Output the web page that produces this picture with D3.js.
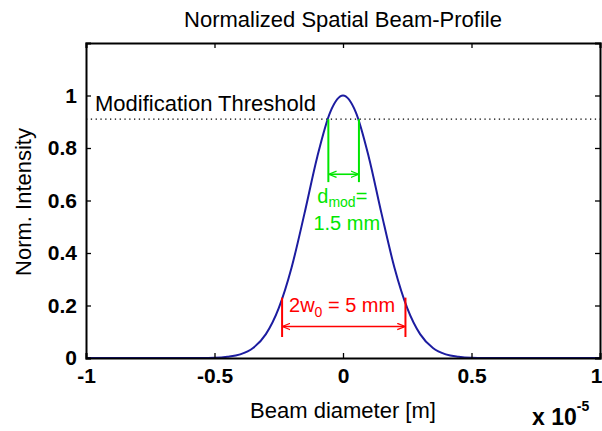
<!DOCTYPE html>
<html>
<head>
<meta charset="utf-8">
<script src="https://cdn.jsdelivr.net/npm/d3@7"></script>
<style>
  body { margin: 0; background: #fff; }
  text { font-family: Arial, "Liberation Sans", sans-serif; }
</style>
</head>
<body>
<div id="chart-area"></div>
<script>
// beam position in units of 1e-5 m
var positions = [-1, -0.55, -0.5, -0.45, -0.4, -0.35, -0.3, -0.25, -0.2, -0.15, -0.1, -0.05, 0,
                 0.05, 0.1, 0.15, 0.2, 0.25, 0.3, 0.35, 0.4, 0.45, 0.5, 0.55, 1];
var intensity = [0, 0, 0.001, 0.005, 0.014, 0.038, 0.091, 0.19, 0.345, 0.55, 0.767, 0.936, 1,
                 0.936, 0.767, 0.55, 0.345, 0.19, 0.091, 0.038, 0.014, 0.005, 0.001, 0, 0];
var xTicks = [-1, -0.5, 0, 0.5, 1];
var yTicks = [0, 0.2, 0.4, 0.6, 0.8, 1];
var threshold = 0.91;
var dmod = [-0.057, 0.062];     // where the curve crosses the threshold
var w0 = [-0.237, 0.243];       // 2w0 markers
var w0Level = 0.23;

var margin = {top: 43, right: 2, bottom: 73, left: 86};
var width = 602 - margin.left - margin.right;
var height = 431 - margin.top - margin.bottom;

var svg = d3.select("#chart-area").append("svg")
    .attr("width", 602)
    .attr("height", 431);

svg.append("defs").selectAll("marker")
    .data([["arrG", "#00e600"], ["arrR", "#ff0000"]])
    .enter().append("marker")
        .attr("id", d => d[0])
        .attr("viewBox", "0 0 10 10")
        .attr("refX", 9).attr("refY", 5)
        .attr("markerWidth", 8).attr("markerHeight", 8)
        .attr("markerUnits", "userSpaceOnUse")
        .attr("orient", "auto-start-reverse")
        .append("path")
            .attr("d", "M0,1 L10,5 L0,9")
            .attr("fill", "none")
            .attr("stroke", d => d[1])
            .attr("stroke-width", 1.6);

var g = svg.append("g")
    .attr("transform", "translate(" + margin.left + "," + margin.top + ")");

var x = d3.scaleLinear().domain([-1, 1]).range([0, width]);
var y = d3.scaleLinear().domain([0, 1.2]).range([height, 0]);

var fmt = d => d3.format("~g")(d).replace("\u2212", "-");

// title
svg.append("text")
    .attr("x", margin.left + width / 2)
    .attr("y", 27)
    .attr("font-size", "22px")
    .attr("text-anchor", "middle")
    .text("Normalized Spatial Beam-Profile");

// threshold
g.append("line")
    .attr("x1", 0).attr("x2", width)
    .attr("y1", y(threshold)).attr("y2", y(threshold))
    .attr("stroke", "#000")
    .attr("stroke-width", 1.3)
    .attr("stroke-dasharray", "1.3,3.5");
g.append("text")
    .attr("x", 9)
    .attr("y", y(threshold) - 8)
    .attr("font-size", "22px")
    .text("Modification Threshold");

// curve
var line = d3.line()
    .x((d, i) => x(positions[i]))
    .y(d => y(d))
    .curve(d3.curveMonotoneX);
g.append("path")
    .datum(intensity)
    .attr("d", line)
    .attr("fill", "none")
    .attr("stroke", "#1c1ca0")
    .attr("stroke-width", 2);

// d_mod annotation
var green = "#00e600";
g.selectAll(".dmod").data(dmod).enter().append("line")
    .attr("class", "dmod")
    .attr("x1", d => x(d)).attr("x2", d => x(d))
    .attr("y1", y(threshold)).attr("y2", y(0.67))
    .attr("stroke", green).attr("stroke-width", 2);
g.append("line")
    .attr("x1", x(dmod[0]) + 1).attr("x2", x(dmod[1]) - 1)
    .attr("y1", y(0.7)).attr("y2", y(0.7))
    .attr("stroke", green).attr("stroke-width", 1.6)
    .attr("marker-start", "url(#arrG)")
    .attr("marker-end", "url(#arrG)");
var t1 = g.append("text")
    .attr("x", x(-0.1))
    .attr("y", y(0.59))
    .attr("font-size", "20px")
    .attr("fill", green);
t1.append("tspan").text("d");
t1.append("tspan").attr("font-size", "14px").attr("dy", 4).text("mod");
t1.append("tspan").attr("dy", -4).text("=");
g.append("text")
    .attr("x", x(-0.115))
    .attr("y", y(0.487))
    .attr("font-size", "20px")
    .attr("fill", green)
    .text("1.5 mm");

// 2w0 annotation
var red = "#ff0000";
g.selectAll(".w0").data(w0).enter().append("line")
    .attr("class", "w0")
    .attr("x1", d => x(d)).attr("x2", d => x(d))
    .attr("y1", y(w0Level)).attr("y2", y(0.08))
    .attr("stroke", red).attr("stroke-width", 2);
g.append("line")
    .attr("x1", x(w0[0]) + 1).attr("x2", x(w0[1]) - 1)
    .attr("y1", y(0.12)).attr("y2", y(0.12))
    .attr("stroke", red).attr("stroke-width", 1.6)
    .attr("marker-start", "url(#arrR)")
    .attr("marker-end", "url(#arrR)");
var t2 = g.append("text")
    .attr("x", x(-0.21))
    .attr("y", y(0.175))
    .attr("font-size", "20px")
    .attr("fill", red);
t2.append("tspan").text("2w");
t2.append("tspan").attr("font-size", "14px").attr("dy", 5).text("0");
t2.append("tspan").attr("dy", -5).text(" = 5 mm");

// axes, MATLAB style box with inward ticks
var bottomAxis = d3.axisBottom(x).tickValues(xTicks).tickSize(-5).tickPadding(10)
    .tickFormat(fmt);
g.append("g")
    .attr("class", "bottom axis")
    .attr("transform", "translate(0," + height + ")")
    .call(bottomAxis);
g.append("g")
    .attr("class", "top axis")
    .call(d3.axisTop(x).tickValues(xTicks).tickSize(-5).tickFormat(""));

var leftAxis = d3.axisLeft(y).tickValues(yTicks).tickSize(-5).tickPadding(9)
    .tickFormat(fmt);
g.append("g")
    .attr("class", "left axis")
    .call(leftAxis);
g.append("g")
    .attr("class", "right axis")
    .attr("transform", "translate(" + width + ",0)")
    .call(d3.axisRight(y).tickValues(yTicks).tickSize(-5).tickFormat(""));

g.selectAll(".axis path").attr("stroke", "#000").attr("stroke-width", 2);
g.selectAll(".axis line").attr("stroke", "#000").attr("stroke-width", 1.3);
g.selectAll(".axis text")
    .attr("font-size", "21px")
    .attr("font-weight", "bold")
    .attr("fill", "#000")
    .attr("font-family", "Arial, 'Liberation Sans', sans-serif");
// keep the last x label inside the window
g.selectAll(".bottom.axis .tick text").filter(d => d === 1).attr("dx", -4);

// axis labels
svg.append("text")
    .attr("x", margin.left + width / 2)
    .attr("y", 418)
    .attr("font-size", "22px")
    .attr("text-anchor", "middle")
    .text("Beam diameter [m]");
svg.append("text")
    .attr("transform", "rotate(-90)")
    .attr("x", -202)
    .attr("y", 31)
    .attr("font-size", "22px")
    .attr("text-anchor", "middle")
    .text("Norm. Intensity");
var mult = svg.append("text")
    .attr("x", 532)
    .attr("y", 425)
    .attr("font-size", "23px")
    .attr("font-weight", "bold");
mult.append("tspan").text("x 10");
mult.append("tspan").attr("font-size", "14px").attr("dy", -14).text("-5");
</script>
</body>
</html>
